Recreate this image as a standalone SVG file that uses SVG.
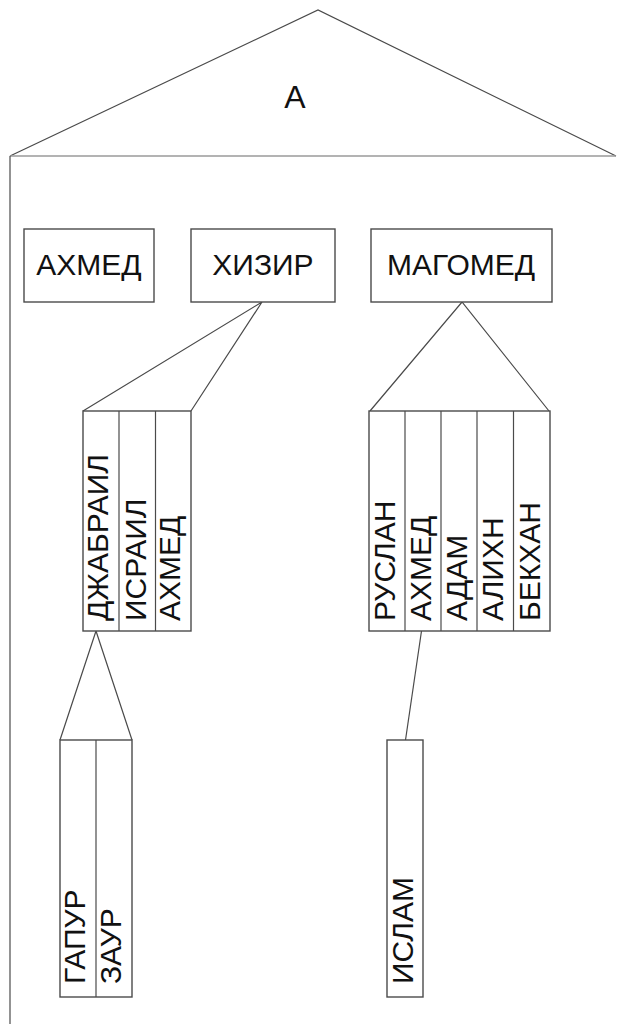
<svg xmlns="http://www.w3.org/2000/svg" width="618" height="1024" viewBox="0 0 618 1024">
<style>
.box{fill:#fff;stroke:#4a4a4a;stroke-width:1.4}
.ln{fill:none;stroke:#4a4a4a;stroke-width:1.2}
.t{font-family:"Liberation Sans",Arial,sans-serif;font-size:30px;fill:#111}
.c{text-anchor:middle}
</style>
<rect width="618" height="1024" fill="#fff"/>
<g id="frame">
<polyline class="ln" points="10,156 318,10 616,156"/>
<line x1="10" y1="156" x2="616" y2="156" stroke="#9a9a9a" stroke-width="1.6"/>
<line class="ln" x1="10" y1="156" x2="10" y2="1024"/>
<text class="t c" x="295" y="108" style="font-size:32px">А</text>
</g>
<g id="connectors">
<polyline class="ln" points="83,411 262,302 191,411"/>
<polyline class="ln" points="370,411 462,302 549,411"/>
<polyline class="ln" points="60,740 96,631 132,740"/>
<line class="ln" x1="421.5" y1="631" x2="405.5" y2="740"/>
</g>
<g id="n-ahmed">
<rect class="box" x="24" y="229" width="130" height="73"/>
<text class="t c" x="89" y="275">АХМЕД</text>
</g>
<g id="n-hizir">
<rect class="box" x="191" y="229" width="144" height="73"/>
<text class="t c" x="263" y="275">ХИЗИР</text>
</g>
<g id="n-magomed">
<rect class="box" x="371" y="229" width="181" height="73"/>
<text class="t c" x="461" y="275">МАГОМЕД</text>
</g>
<g id="n-hizir-children">
<rect class="box" x="83" y="411" width="108" height="220"/>
<line class="ln" x1="119" y1="411" x2="119" y2="631"/>
<line class="ln" x1="155.5" y1="411" x2="155.5" y2="631"/>
<text class="t" transform="translate(108,621) rotate(-90)">ДЖАБРАИЛ</text>
<text class="t" transform="translate(146,621) rotate(-90)">ИСРАИЛ</text>
<text class="t" transform="translate(180,621) rotate(-90)">АХМЕД</text>
</g>
<g id="n-magomed-children">
<rect class="box" x="369" y="411" width="181" height="220"/>
<line class="ln" x1="405" y1="411" x2="405" y2="631"/>
<line class="ln" x1="441" y1="411" x2="441" y2="631"/>
<line class="ln" x1="477" y1="411" x2="477" y2="631"/>
<line class="ln" x1="513.5" y1="411" x2="513.5" y2="631"/>
<text class="t" transform="translate(395,621) rotate(-90)">РУСЛАН</text>
<text class="t" transform="translate(431,621) rotate(-90)">АХМЕД</text>
<text class="t" transform="translate(467,621) rotate(-90)">АДАМ</text>
<text class="t" transform="translate(503,621) rotate(-90)">АЛИХН</text>
<text class="t" transform="translate(540,621) rotate(-90)">БЕКХАН</text>
</g>
<g id="n-djabrail-children">
<rect class="box" x="60" y="740" width="72" height="257"/>
<line class="ln" x1="96" y1="740" x2="96" y2="997"/>
<text class="t" transform="translate(85,984) rotate(-90)">ГАПУР</text>
<text class="t" transform="translate(121,984) rotate(-90)">ЗАУР</text>
</g>
<g id="n-ahmed2-children">
<rect class="box" x="387" y="740" width="36" height="257"/>
<text class="t" transform="translate(413,984) rotate(-90)">ИСЛАМ</text>
</g>
</svg>
